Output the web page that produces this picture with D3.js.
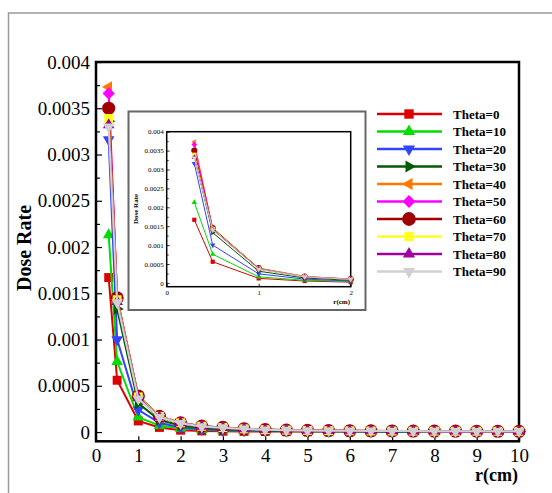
<!DOCTYPE html>
<html>
<head>
<meta charset="utf-8">
<script src="https://cdn.jsdelivr.net/npm/d3@7"></script>
<style>
  body { margin: 0; background: #fff; }
  svg { display: block; font-family: "Liberation Serif", "Times New Roman", serif; }
</style>
</head>
<body>
<div id="chart"></div>
<script>
// radial distances (cm)
const rValues = [0.3, 0.5, 1, 1.5, 2, 2.5, 3, 3.5, 4, 4.5, 5, 5.5, 6, 6.5, 7, 7.5, 8, 8.5, 9, 9.5, 10];

// dose rate per angle
const theta0  = [0.00167, 0.00056, 0.00012, 0.00005, 0.00002, 0.000012, 0.000009, 0.000007, 0.000006, 0.000005, 0.0000045, 0.000004, 0.0000035, 0.000003, 0.0000028, 0.0000025, 0.0000023, 0.0000021, 0.0000019, 0.0000017, 0.0000015];
const theta10 = [0.00213, 0.00076, 0.00016, 0.00007, 0.00004, 0.000025, 0.000018, 0.000014, 0.000011, 0.000009, 0.000008, 0.000007, 0.000006, 0.0000055, 0.000005, 0.0000045, 0.000004, 0.0000038, 0.0000035, 0.0000032, 0.000003];
const theta20 = [0.00316, 0.00100, 0.00024, 0.00010, 0.00005, 0.00003, 0.00002, 0.000016, 0.000013, 0.000011, 0.00001, 0.000009, 0.000008, 0.000007, 0.0000065, 0.000006, 0.0000055, 0.000005, 0.0000048, 0.0000045, 0.0000042];
const theta30 = [0.00336, 0.00133, 0.00031, 0.00013, 0.00007, 0.000045, 0.00003, 0.000022, 0.000017, 0.000014, 0.000012, 0.000011, 0.00001, 0.000009, 0.0000085, 0.000008, 0.0000075, 0.000007, 0.0000065, 0.000006, 0.0000058];
const theta40 = [0.00373, 0.00143, 0.00037, 0.00016, 0.00009, 0.00006, 0.000045, 0.000033, 0.000025, 0.00002, 0.000017, 0.000015, 0.000013, 0.000012, 0.000011, 0.00001, 0.0000095, 0.000009, 0.0000085, 0.000008, 0.0000078];
const theta50 = [0.00366, 0.00144, 0.00038, 0.00017, 0.0001, 0.000063, 0.000048, 0.000035, 0.000026, 0.000021, 0.000018, 0.000015, 0.000014, 0.000012, 0.000011, 0.00001, 0.0000095, 0.000009, 0.0000087, 0.0000083, 0.000008];
const theta60 = [0.00350, 0.00145, 0.00039, 0.00017, 0.0001, 0.000064, 0.00005, 0.000036, 0.000027, 0.000022, 0.000018, 0.000016, 0.000014, 0.000013, 0.000012, 0.000011, 0.00001, 0.0000095, 0.000009, 0.0000086, 0.0000083];
const theta70 = [0.00339, 0.00143, 0.00038, 0.00017, 0.0001, 0.000063, 0.000049, 0.000035, 0.000026, 0.000021, 0.000018, 0.000015, 0.000014, 0.000012, 0.000011, 0.00001, 0.0000095, 0.000009, 0.0000087, 0.0000083, 0.000008];
const theta80 = [0.00332, 0.00141, 0.00037, 0.00016, 0.000098, 0.000062, 0.000048, 0.000034, 0.000025, 0.00002, 0.000017, 0.000015, 0.000013, 0.000012, 0.000011, 0.00001, 0.0000092, 0.0000088, 0.0000085, 0.000008, 0.0000078];
const theta90 = [0.00330, 0.00140, 0.00036, 0.00016, 0.000095, 0.00006, 0.000047, 0.000034, 0.000025, 0.00002, 0.000017, 0.000015, 0.000013, 0.000012, 0.000011, 0.00001, 0.0000092, 0.0000088, 0.0000085, 0.000008, 0.0000078];

const seriesNames = ["Theta=0", "Theta=10", "Theta=20", "Theta=30", "Theta=40", "Theta=50", "Theta=60", "Theta=70", "Theta=80", "Theta=90"];
const seriesValues = [theta0, theta10, theta20, theta30, theta40, theta50, theta60, theta70, theta80, theta90];
const seriesColors = ["#dd0000", "#00dd00", "#3344ff", "#005a00", "#ff7700", "#ff00ff", "#a00000", "#ffff22", "#a000a0", "#d0d0d0"];
const seriesMarkers = ["square", "triUp", "triDown", "triRight", "triLeft", "diamond", "circle", "square", "triUp", "triDown"];

const yTicks = [0, 0.0005, 0.001, 0.0015, 0.002, 0.0025, 0.003, 0.0035, 0.004];
const yTickLabels = ["0", "0.0005", "0.001", "0.0015", "0.002", "0.0025", "0.003", "0.0035", "0.004"];
const yMinorTicks = [0.00025, 0.00075, 0.00125, 0.00175, 0.00225, 0.00275, 0.00325, 0.00375];
const xTicks = [0, 1, 2, 3, 4, 5, 6, 7, 8, 9, 10];
const insetXTicks = [0, 1, 2];

const W = 552, H = 493;

const svg = d3.select('#chart').append('svg')
  .attr('width', W)
  .attr('height', H);

// outer gray frame (runs off the page on right/bottom)
svg.append('rect')
  .attr('x', 8.5).attr('y', 13)
  .attr('width', 620).attr('height', 600)
  .attr('fill', 'none').attr('stroke', '#9a9a9a').attr('stroke-width', 1.5);

// marker shapes
function markerPath(kind, size) {
  let type = d3.symbolTriangle;
  if (kind === 'square' || kind === 'diamond') type = d3.symbolSquare;
  if (kind === 'circle') type = d3.symbolCircle;
  return d3.symbol().type(type).size(size)();
}
function markerRot(kind) {
  return { triDown: 180, triRight: 90, triLeft: -90, diamond: 45 }[kind] || 0;
}
const mainSizes = { square: 80, circle: 135, diamond: 75, triUp: 58, triDown: 58, triRight: 58, triLeft: 58 };

// ---------- main plot ----------
const x = d3.scaleLinear().domain([0, 10]).range([96, 519]);
const y = d3.scaleLinear().domain([-0.0001, 0.004]).range([441.3, 62]);

svg.append('g')
  .attr('transform', 'translate(96,0)')
  .call(d3.axisLeft(y).tickValues(yTicks).tickSize(-6).tickSizeOuter(0).tickPadding(6)
    .tickFormat((d, i) => yTickLabels[i]));
svg.append('g')
  .attr('transform', 'translate(96,0)')
  .call(d3.axisLeft(y).tickValues(yMinorTicks).tickSize(-4).tickSizeOuter(0).tickFormat(''));

svg.append('g')
  .attr('transform', 'translate(0,441.3)')
  .call(d3.axisBottom(x).tickValues(xTicks).tickSize(-5).tickSizeOuter(0).tickPadding(7)
    .tickFormat(d3.format('d')));

svg.selectAll('.domain').remove();
svg.selectAll('.tick line').attr('stroke', '#000').attr('stroke-width', 1.2);
svg.selectAll('.tick text').attr('font-size', 19).attr('fill', '#000')
  .attr('font-family', '"Liberation Serif", serif');

svg.append('rect')
  .attr('x', 96).attr('y', 62)
  .attr('width', 423).attr('height', 379.3)
  .attr('fill', 'none').attr('stroke', '#000').attr('stroke-width', 2.5);

const line = d3.line().x(d => x(d[0])).y(d => y(d[1]));

seriesValues.forEach((vals, i) => {
  const pts = rValues.map((r, j) => [r, vals[j]]);
  svg.append('path')
    .datum(pts)
    .attr('d', line)
    .attr('fill', 'none')
    .attr('stroke', seriesColors[i])
    .attr('stroke-width', 2);
  svg.append('g').selectAll('path')
    .data(pts)
    .join('path')
      .attr('d', markerPath(seriesMarkers[i], mainSizes[seriesMarkers[i]]))
      .attr('transform', d => `translate(${x(d[0])},${y(d[1])}) rotate(${markerRot(seriesMarkers[i])})`)
      .attr('fill', seriesColors[i]);
});

svg.append('text')
  .attr('x', 518).attr('y', 481)
  .attr('text-anchor', 'end')
  .attr('font-size', 18).attr('font-weight', 'bold')
  .text('r(cm)');

svg.append('text')
  .attr('transform', 'translate(31,248) rotate(-90)')
  .attr('text-anchor', 'middle')
  .attr('font-size', 20).attr('font-weight', 'bold')
  .text('Dose Rate');

// ---------- legend ----------
const legend = svg.append('g');
seriesNames.forEach((name, i) => {
  const ly = 114 + i * 17.5;
  legend.append('line')
    .attr('x1', 377).attr('x2', 442).attr('y1', ly).attr('y2', ly)
    .attr('stroke', seriesColors[i]).attr('stroke-width', 2.5);
  legend.append('path')
    .attr('d', markerPath(seriesMarkers[i], mainSizes[seriesMarkers[i]] * 1.1))
    .attr('transform', `translate(409,${ly}) rotate(${markerRot(seriesMarkers[i])})`)
    .attr('fill', seriesColors[i]);
  legend.append('text')
    .attr('x', 453).attr('y', ly + 4.5)
    .attr('font-size', 13).attr('font-weight', 'bold')
    .text(name);
});

// ---------- inset ----------
const inset = svg.append('g');
inset.append('rect')
  .attr('x', 128.5).attr('y', 111.5)
  .attr('width', 237).attr('height', 198.5)
  .attr('fill', '#fff').attr('stroke', '#666').attr('stroke-width', 2);

const xi = d3.scaleLinear().domain([0, 2]).range([166.7, 350.7]);
const yi = d3.scaleLinear().domain([-0.0001, 0.004]).range([286.7, 131.7]);

inset.append('g')
  .attr('transform', 'translate(166.7,0)')
  .call(d3.axisLeft(yi).tickValues(yTicks).tickSize(-3).tickSizeOuter(0).tickPadding(3)
    .tickFormat((d, i) => yTickLabels[i]));
inset.append('g')
  .attr('transform', 'translate(166.7,0)')
  .call(d3.axisLeft(yi).tickValues(yMinorTicks).tickSize(-2).tickSizeOuter(0).tickFormat(''));
inset.append('g')
  .attr('transform', 'translate(0,286.7)')
  .call(d3.axisBottom(xi).tickValues(insetXTicks).tickSize(-3).tickSizeOuter(0).tickPadding(3)
    .tickFormat(d3.format('d')));

inset.selectAll('.domain').remove();
inset.selectAll('.tick line').attr('stroke', '#000').attr('stroke-width', 0.8);
inset.selectAll('.tick text').attr('font-size', 7).attr('fill', '#000')
  .attr('font-family', '"Liberation Serif", serif');

inset.append('clipPath').attr('id', 'insetClip')
  .append('rect').attr('x', 160).attr('y', 125).attr('width', 196).attr('height', 165);

inset.append('rect')
  .attr('x', 166.7).attr('y', 131.7)
  .attr('width', 184).attr('height', 155)
  .attr('fill', 'none').attr('stroke', '#000').attr('stroke-width', 1.5);

const lineI = d3.line().x(d => xi(d[0])).y(d => yi(d[1]));
const insetData = inset.append('g').attr('clip-path', 'url(#insetClip)');

seriesValues.forEach((vals, i) => {
  const pts = rValues.map((r, j) => [r, vals[j]]).filter(d => d[0] <= 2);
  insetData.append('path')
    .datum(pts)
    .attr('d', lineI)
    .attr('fill', 'none')
    .attr('stroke', seriesColors[i])
    .attr('stroke-width', 1);
  insetData.append('g').selectAll('path')
    .data(pts)
    .join('path')
      .attr('d', markerPath(seriesMarkers[i], mainSizes[seriesMarkers[i]] * 0.22))
      .attr('transform', d => `translate(${xi(d[0])},${yi(d[1])}) rotate(${markerRot(seriesMarkers[i])})`)
      .attr('fill', seriesColors[i]);
});

inset.append('text')
  .attr('x', 350).attr('y', 304)
  .attr('text-anchor', 'end')
  .attr('font-size', 7).attr('font-weight', 'bold')
  .text('r(cm)');

inset.append('text')
  .attr('transform', 'translate(138,209) rotate(-90)')
  .attr('text-anchor', 'middle')
  .attr('font-size', 7).attr('font-weight', 'bold')
  .text('Dose Rate');
</script>
</body>
</html>
